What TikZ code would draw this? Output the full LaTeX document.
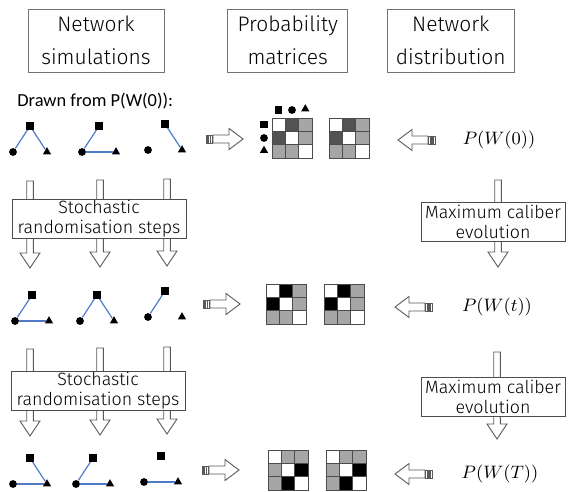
\documentclass[tikz,border=0pt]{standalone}
\usepackage[no-math]{fontspec}
\setmainfont{Fira Sans Light}
\newfontfamily\drawnfont{Carlito}
\usepackage{amsmath}
\usetikzlibrary{shapes.geometric}

\colorlet{cdark}{black!68}
\colorlet{clight}{black!35}
\definecolor{linkblue}{RGB}{80,122,200}

% one 3x3 probability matrix: top-left corner and the nine cell colours
\newcommand{\probgrid}[3]{%
  \foreach \c [count=\i from 0] in {#3} {
    \pgfmathtruncatemacro{\gr}{div(\i,3)}
    \pgfmathtruncatemacro{\gc}{mod(\i,3)}
    \filldraw[cell, fill=\c] ({#1+13.4*\gc},{#2+13.4*\gr}) rectangle ++(13.4,13.4);
  }}

\begin{document}
\begin{tikzpicture}[x=0.5pt, y=-0.5pt,
  titlebox/.style={draw=black!55, align=center, inner sep=1pt,
    font=\fontsize{10.5}{16.5}\selectfont, minimum height=31.5pt},
  stepbox/.style={draw=black!70, fill=white, align=center, inner sep=0.5pt,
    font=\fontsize{8.9}{10}\selectfont, minimum height=19.5pt},
  sq/.style={rectangle, fill=black, inner sep=0pt, minimum size=3.6pt},
  ci/.style={circle, fill=black, inner sep=0pt, minimum size=3.9pt},
  tri/.style={regular polygon, regular polygon sides=3, fill=black,
    inner sep=0pt, minimum size=4.8pt},
  link/.style={draw=linkblue, line width=0.6pt},
  cell/.style={draw=black!70, line width=0.4pt},
  fat/.style={draw=black!65, fill=white, line width=0.45pt},
  pics/fatright/.style={code={
    \draw[fat] (7,-4) -- (23,-4) -- (23,-10.5) -- (37,0) -- (23,10.5)
      -- (23,4) -- (7,4) -- cycle;
    \foreach \s in {0,2.4,4.8} \draw[fat] (\s,-4) rectangle ++(1.6,8);
  }},
  pics/fatdown/.style={code={
    \draw[fat] (-3.3,0) -- (-3.3,72) -- (-10,72) -- (0,87) -- (10,72)
      -- (3.3,72) -- (3.3,0) -- cycle;
  }}
]
  \useasboundingbox (0,0) rectangle (571,491);

  % Column headings
  \node[titlebox, minimum width=68pt] (hsim) at (96,40.5) {Network\\simulations};
  \node[titlebox, minimum width=60pt] (hmat) at (287.7,40.5) {Probability\\matrices};
  \node[titlebox, minimum width=63.5pt] (hdist) at (450.8,40.5) {Network\\distribution};

  \node[anchor=west, inner sep=0pt, font=\drawnfont\fontsize{9.2}{11}\selectfont]
    (drawn) at (17,101) {Drawn from P(W(0)):};

  % Networks: circle, square, triangle
  \foreach \n/\x/\y in {a/13/152, b/82/152, c/148/150,
                        d/15/321, e/80/321, f/148/317,
                        g/13/484, h/76/484, i/144/482} {
    \node[ci] (\n ci) at (\x,\y) {};
    \node[sq] (\n sq) at (\x+17,\y-26) {};
    \node[tri] (\n tr) at (\x+34,\y) {};
  }
  \foreach \a/\b in {asq/aci, asq/atr, bsq/bci, bci/btr, csq/ctr,
                     dsq/dci, dci/dtr, esq/eci, esq/etr, fsq/fci,
                     gsq/gtr, gci/gtr, hsq/hci, hci/htr, ici/itr} {
    \draw[link] (\a) -- (\b);
  }

  % Randomisation and evolution arrows (behind their boxes)
  \foreach \x/\y in {30/181, 100/180, 167/179, 30/349, 100/348, 167/347,
                     498/180, 497/352} {
    \pic at (\x,\y) {fatdown};
  }
  \node[stepbox, minimum width=87pt] (rand1) at (99,218.5) {Stochastic\\randomisation steps};
  \node[stepbox, minimum width=87pt] (rand2) at (98,391) {Stochastic\\randomisation steps};
  \node[stepbox, minimum width=72pt] (evol1) at (493,221.5) {Maximum caliber\\evolution};
  \node[stepbox, minimum width=72pt] (evol2) at (493,396.5) {Maximum caliber\\evolution};

  % Arrows into the matrices
  \pic at (206,139) {fatright};
  \pic at (203,304) {fatright};
  \pic at (202,470) {fatright};
  \pic[xscale=-1] at (435,140) {fatright};
  \pic[xscale=-1] at (432,307) {fatright};
  \pic[xscale=-1] at (432,474) {fatright};

  % Probability matrices
  \probgrid{272}{118}{white,cdark,clight,cdark,white,clight,clight,clight,white}
  \probgrid{329}{118}{white,cdark,clight,cdark,white,clight,clight,clight,white}
  \probgrid{266}{284}{white,black,clight,black,white,clight,clight,clight,white}
  \probgrid{324}{284}{white,black,clight,black,white,clight,clight,clight,white}
  \probgrid{268}{450}{white,clight,clight,clight,white,black,clight,black,white}
  \probgrid{326}{450}{white,clight,clight,clight,white,black,clight,black,white}

  % Row and column keys of the first matrix
  \node[sq] (ksq) at (278.7,110) {};
  \node[ci] (kci) at (292,110) {};
  \node[tri] (ktr) at (305.3,109) {};
  \node[sq] (rsq) at (264,124.7) {};
  \node[ci] (rci) at (264,138) {};
  \node[tri] (rtr) at (264,150.5) {};

  % Distributions
  \node[font=\fontsize{9.5}{11}\selectfont] (p0) at (499,140) {$P(W(0))$};
  \node[font=\fontsize{9.5}{11}\selectfont] (pt) at (497,307) {$P(W(t))$};
  \node[font=\fontsize{9.5}{11}\selectfont] (pT) at (500,474) {$P(W(T))$};
\end{tikzpicture}
\end{document}
